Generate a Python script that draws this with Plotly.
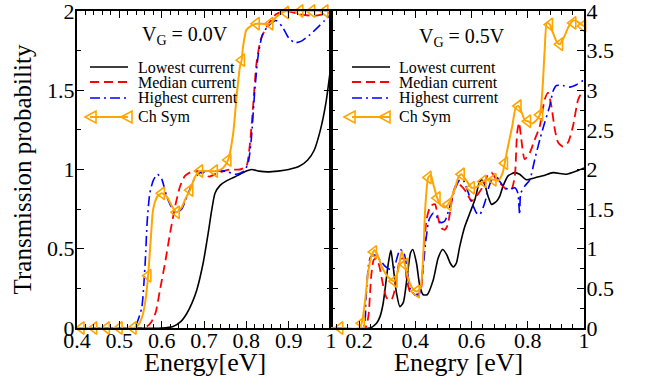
import plotly.graph_objects as go

# ---------------- data: V_G = 0.0 V (left panel) ----------------
e0_low = [0.40, 0.60, 0.627, 0.645, 0.659, 0.672, 0.683, 0.698, 0.71, 0.718, 0.726, 0.738, 0.754, 0.77,
          0.785, 0.80, 0.812, 0.83, 0.85, 0.875, 0.90, 0.925, 0.945, 0.96, 0.975, 0.988, 1.0]
t0_low = [0, 0, 0.01, 0.04, 0.09, 0.16, 0.24, 0.41, 0.60, 0.74, 0.85, 0.90, 0.93, 0.95,
          0.97, 0.99, 1.0, 0.99, 0.985, 0.99, 1.0, 1.02, 1.06, 1.12, 1.25, 1.42, 1.66]

e0_med = [0.40, 0.55, 0.565, 0.576, 0.586, 0.596, 0.608, 0.62, 0.632, 0.643, 0.655, 0.67, 0.685, 0.70,
          0.712, 0.73, 0.76, 0.785, 0.80, 0.808, 0.816, 0.824, 0.834, 0.848, 0.87, 0.895, 0.925, 0.96, 1.0]
t0_med = [0, 0, 0.01, 0.04, 0.10, 0.24, 0.41, 0.60, 0.77, 0.89, 0.96, 0.985, 0.99, 0.97,
          0.955, 0.975, 1.0, 1.0, 1.02, 1.15, 1.40, 1.67, 1.82, 1.90, 1.98, 2.0, 1.98, 1.97, 1.99]

e0_high = [0.40, 0.53, 0.541, 0.553, 0.561, 0.566, 0.572, 0.58, 0.59, 0.60, 0.612, 0.624, 0.635, 0.647,
           0.66, 0.675, 0.69, 0.72, 0.75, 0.775, 0.795, 0.805, 0.812, 0.82, 0.828, 0.838, 0.85, 0.87,
           0.885, 0.90, 0.915, 0.93, 0.95, 0.97, 0.985, 1.0]
t0_high = [0, 0, 0.03, 0.13, 0.41, 0.68, 0.85, 0.93, 0.97, 0.94, 0.83, 0.76, 0.73, 0.75,
           0.83, 0.93, 0.98, 0.99, 0.99, 0.97, 0.99, 1.05, 1.20, 1.50, 1.72, 1.85, 1.90, 1.94,
           1.90, 1.83, 1.80, 1.81, 1.85, 1.90, 1.94, 1.98]

e0_sym = [0.40, 0.533, 0.545, 0.555, 0.562, 0.568, 0.574, 0.58, 0.59, 0.60, 0.612, 0.624, 0.635, 0.647,
          0.657, 0.667, 0.678, 0.69, 0.71, 0.73, 0.745, 0.757, 0.769, 0.777, 0.785, 0.789, 0.792, 0.80,
          0.813, 0.824, 0.856, 0.87, 0.885, 0.895, 1.0]
t0_sym = [0, 0, 0.02, 0.08, 0.18, 0.33, 0.55, 0.75, 0.83, 0.85, 0.83, 0.77, 0.73, 0.76,
          0.82, 0.87, 0.95, 0.99, 0.99, 0.99, 1.01, 1.06, 1.23, 1.46, 1.65, 1.69, 1.77, 1.88,
          1.91, 1.92, 1.92, 1.96, 1.99, 2.0, 2.0]
e0_sym_pts = [0.41, 0.44, 0.47, 0.50, 0.533, 0.568, 0.60, 0.635, 0.667, 0.69, 0.725, 0.757, 0.789,
              0.824, 0.856, 0.893, 0.927, 0.955, 0.986]
t0_sym_pts = [0, 0, 0, 0, 0, 0.33, 0.85, 0.73, 0.87, 0.99, 0.99, 1.06, 1.69,
              1.92, 1.92, 1.99, 2.0, 2.0, 2.0]

# ---------------- data: V_G = 0.5 V (right panel) ----------------
e5_low = [0.10, 0.239, 0.262, 0.274, 0.285, 0.292, 0.304, 0.313, 0.321, 0.333, 0.345, 0.357, 0.371, 0.383,
          0.391, 0.404, 0.416, 0.428, 0.442, 0.464, 0.481, 0.497, 0.511, 0.524, 0.535, 0.546, 0.558,
          0.576, 0.594, 0.612, 0.627, 0.635, 0.647, 0.659, 0.671, 0.689, 0.70, 0.712, 0.73, 0.754,
          0.771, 0.795, 0.819, 0.854, 0.89, 0.937, 0.973, 1.0]
t5_low = [0, 0, 0.06, 0.14, 0.30, 0.48, 0.82, 0.98, 0.78, 0.44, 0.27, 0.32, 0.65, 0.95,
          0.99, 0.82, 0.53, 0.42, 0.42, 0.61, 0.88, 0.99, 0.93, 0.82, 0.77, 0.82, 1.03,
          1.28, 1.45, 1.62, 1.83, 1.87, 1.81, 1.66, 1.56, 1.60, 1.66, 1.79, 1.92, 1.96,
          1.94, 1.87, 1.89, 1.92, 1.96, 1.94, 1.98, 2.02]

e5_med = [0.10, 0.221, 0.233, 0.239, 0.244, 0.252, 0.262, 0.272, 0.286, 0.298, 0.314, 0.324, 0.336, 0.345,
          0.36, 0.369, 0.383, 0.398, 0.41, 0.422, 0.43, 0.44, 0.454, 0.470, 0.480, 0.493, 0.505, 0.515,
          0.523, 0.535, 0.549, 0.564, 0.582, 0.60, 0.612, 0.627, 0.641, 0.659, 0.671, 0.689, 0.706,
          0.724, 0.742, 0.754, 0.762, 0.769, 0.777, 0.789, 0.807, 0.825, 0.843, 0.86, 0.872, 0.884,
          0.896, 0.908, 0.925, 0.943, 0.961, 0.979, 0.99, 1.0]
t5_med = [0, 0, 0.15, 0.44, 0.69, 0.86, 0.88, 0.78, 0.53, 0.38, 0.35, 0.44, 0.69, 0.86,
          0.88, 0.62, 0.44, 0.42, 0.40, 0.53, 0.95, 1.37, 1.54, 1.56, 1.40, 1.26, 1.24, 1.30,
          1.45, 1.71, 1.83, 1.79, 1.71, 1.60, 1.64, 1.71, 1.79, 1.94, 1.96, 1.87, 1.81,
          1.75, 1.75, 1.92, 2.46, 2.59, 2.38, 2.13, 2.21, 2.38, 2.55, 2.88, 2.97, 2.80,
          2.51, 2.34, 2.29, 2.34, 2.55, 2.88, 2.95, 2.93]

e5_high = [0.10, 0.214, 0.224, 0.233, 0.241, 0.256, 0.274, 0.292, 0.31, 0.324, 0.336, 0.346, 0.359,
           0.371, 0.383, 0.40, 0.414, 0.428, 0.438, 0.449, 0.464, 0.475, 0.49, 0.505, 0.523, 0.541,
           0.558, 0.573, 0.588, 0.606, 0.618, 0.629, 0.647, 0.659, 0.671, 0.683, 0.70, 0.718, 0.736,
           0.754, 0.765, 0.768, 0.771, 0.775, 0.789, 0.807, 0.825, 0.843, 0.86, 0.878, 0.89, 0.902,
           0.925, 0.949, 0.973, 0.996, 1.0]
t5_high = [0, 0, 0.36, 0.78, 0.90, 0.92, 0.86, 0.78, 0.74, 0.76, 0.90, 0.99, 0.95,
           0.74, 0.48, 0.42, 0.44, 0.78, 1.12, 1.37, 1.45, 1.41, 1.33, 1.35, 1.54, 1.75,
           1.87, 1.85, 1.71, 1.54, 1.45, 1.43, 1.58, 1.75, 1.87, 1.94, 1.85, 1.77, 1.75,
           1.77, 1.70, 1.58, 1.43, 1.70, 1.79, 1.87, 2.13, 2.38, 2.59, 2.80, 2.99, 3.06,
           3.06, 3.04, 3.07, 3.12, 3.12]

e5_sym = [0.10, 0.20, 0.209, 0.22, 0.232, 0.245, 0.256, 0.268, 0.28, 0.295, 0.31, 0.325, 0.34, 0.352,
          0.363, 0.375, 0.39, 0.404, 0.418, 0.428, 0.435, 0.446, 0.455, 0.465, 0.478, 0.49, 0.505,
          0.517, 0.54, 0.553, 0.564, 0.58, 0.60, 0.62, 0.641, 0.66, 0.677, 0.695, 0.71, 0.718, 0.73,
          0.745, 0.757, 0.766, 0.775, 0.79, 0.80, 0.815, 0.83, 0.843, 0.852, 0.86, 0.868, 0.878,
          0.89, 0.905, 0.914, 0.93, 0.945, 0.961, 0.975, 0.99, 1.0]
t5_sym = [0, 0, 0.06, 0.30, 0.70, 0.92, 0.98, 0.90, 0.78, 0.68, 0.62, 0.59, 0.75, 0.97,
          0.80, 0.62, 0.50, 0.46, 0.50, 0.90, 1.50, 1.90, 1.93, 1.80, 1.64, 1.55, 1.52,
          1.56, 1.75, 1.90, 1.94, 1.87, 1.77, 1.78, 1.85, 1.88, 1.87, 1.86, 1.95, 2.08, 2.30,
          2.55, 2.78, 2.80, 2.75, 2.62, 2.61, 2.58, 2.62, 2.69, 3.00, 3.50, 3.85, 3.83,
          3.72, 3.60, 3.58, 3.68, 3.80, 3.88, 3.87, 3.83, 3.81]
e5_sym_pts = [0.132, 0.209, 0.252, 0.325, 0.363, 0.404, 0.446, 0.478, 0.517, 0.564, 0.60, 0.641,
              0.677, 0.718, 0.766, 0.80, 0.843, 0.878, 0.914, 0.961, 0.996]
t5_sym_pts = [0, 0.06, 0.96, 0.59, 0.80, 0.46, 1.90, 1.64, 1.56, 1.94, 1.77, 1.85,
              1.87, 2.08, 2.80, 2.61, 2.69, 3.83, 3.58, 3.85, 3.81]

# ---------------- labels ----------------
series_names = ["Lowest current", "Median current", "Highest current", "Ch Sym"]
x0_tickvals = [0.4, 0.5, 0.6, 0.7, 0.8, 0.9, 1.0]
x0_ticktext = ["0.4", "0.5", "0.6", "0.7", "0.8", "0.9", "1"]
x5_tickvals = [0.2, 0.4, 0.6, 0.8, 1.0]
x5_ticktext = ["0.2", "0.4", "0.6", "0.8", "1"]
y0_tickvals = [0, 0.5, 1, 1.5, 2]
y0_ticktext = ["0", "0.5", "1", "1.5", "2"]
y5_tickvals = [0, 0.5, 1, 1.5, 2, 2.5, 3, 3.5, 4]
y5_ticktext = ["0", "0.5", "1", "1.5", "2", "2.5", "3", "3.5", "4"]

FONT = "Liberation Serif"
ORANGE = "#FFA500"
colors = ["black", "#FF0000", "#0000FF", ORANGE]
dashes = ["solid", "9px,5px", "10px,4px,2px,4px", "solid"]
widths = [1.6, 1.8, 1.6, 2.0]

fig = go.Figure()

panels = [
    ("x", "y", [(e0_low, t0_low), (e0_med, t0_med), (e0_high, t0_high), (e0_sym, t0_sym)], (e0_sym_pts, t0_sym_pts)),
    ("x2", "y2", [(e5_low, t5_low), (e5_med, t5_med), (e5_high, t5_high), (e5_sym, t5_sym)], (e5_sym_pts, t5_sym_pts)),
]
for xa, ya, curves, pts in panels:
    for i, (ex, ty) in enumerate(curves):
        fig.add_trace(go.Scatter(
            x=ex, y=ty, mode="lines", xaxis=xa, yaxis=ya, name=series_names[i],
            line=dict(color=colors[i], width=widths[i], dash=dashes[i], shape="spline", smoothing=0.6),
            showlegend=False, hoverinfo="skip"))
    fig.add_trace(go.Scatter(
        x=pts[0], y=pts[1], mode="markers", xaxis=xa, yaxis=ya, name=series_names[3],
        marker=dict(symbol="triangle-left-open", size=11, color=ORANGE, line=dict(width=1.6, color=ORANGE)),
        cliponaxis=False, showlegend=False, hoverinfo="skip"))

# geometry
W, H = 645, 385
ML, MR, MT, MB = 77, 61, 11, 57
PW, PH = W - ML - MR, H - MT - MB
split = 254 / PW

def px(xp):
    return (xp - ML) / PW

def py(yp):
    return (H - MB - yp) / PH

axis_common = dict(
    showline=True, linecolor="black", linewidth=2, mirror="ticks",
    ticks="inside", ticklen=7, tickwidth=1.3, tickcolor="black",
    showgrid=False, zeroline=False, automargin=False, ticklabeloverflow="allow",
    tickfont=dict(family=FONT, size=22, color="black"),
)
title_font = dict(family=FONT, size=25, color="black")
fig.update_layout(
    xaxis=dict(axis_common, domain=[0, split], range=[0.4, 1.0], anchor="y",
               tickmode="array", tickvals=x0_tickvals, ticktext=x0_ticktext, ticklabelstandoff=-8,
               minor=dict(dtick=0.02, tick0=0.4, ticks="inside", ticklen=4, tickcolor="black", tickwidth=1)),
    yaxis=dict(axis_common, domain=[0, 1], range=[0, 2], anchor="x",
               tickmode="array", tickvals=y0_tickvals, ticktext=y0_ticktext, ticklabelstandoff=-4,
               minor=dict(dtick=0.25, tick0=0, ticks="inside", ticklen=4, tickcolor="black", tickwidth=1),
               title=dict(text="Transmission probability", font=title_font, standoff=8)),
    xaxis2=dict(axis_common, domain=[split, 1], range=[0.1, 1.0], anchor="y2",
                tickmode="array", tickvals=x5_tickvals, ticktext=x5_ticktext, ticklabelstandoff=-8,
                minor=dict(dtick=0.04, tick0=0.2, ticks="inside", ticklen=4, tickcolor="black", tickwidth=1)),
    yaxis2=dict(axis_common, domain=[0, 1], range=[0, 4], anchor="x2", side="right",
                tickmode="array", tickvals=y5_tickvals, ticktext=y5_ticktext, ticklabelstandoff=-4,
                minor=dict(dtick=0.25, tick0=0, ticks="inside", ticklen=4, tickcolor="black", tickwidth=1)),
    width=W, height=H,
    margin=dict(l=ML, r=MR, t=MT, b=MB, pad=0),
    template="none",
    paper_bgcolor="white", plot_bgcolor="white",
    showlegend=False,
    font=dict(family=FONT, color="black"),
)

# x-axis titles (placed as annotations for exact positioning)
fig.add_annotation(text="Energy[eV]", x=px(205), y=py(362), xref="paper", yref="paper",
                   xanchor="center", yanchor="middle",
                   showarrow=False, font=dict(family=FONT, size=26, color="black"))
fig.add_annotation(text="Enegry [eV]", x=px(458), y=py(362), xref="paper", yref="paper",
                   xanchor="center", yanchor="middle",
                   showarrow=False, font=dict(family=FONT, size=26, color="black"))

# V_G labels
fig.add_annotation(text="V<sub>G</sub> = 0.0V", x=px(185), y=py(21), xref="paper", yref="paper",
                   xanchor="center", yanchor="top",
                   showarrow=False, font=dict(family=FONT, size=20, color="black"))
fig.add_annotation(text="V<sub>G</sub> = 0.5V", x=px(462), y=py(23), xref="paper", yref="paper",
                   xanchor="center", yanchor="top",
                   showarrow=False, font=dict(family=FONT, size=20, color="black"))

# hand-drawn legends (one per panel)
rows = [67, 82, 98, 117]
for (lx0, lx1, tx, tri) in [(90, 128, 136, (91, 127)), (352, 390, 397, (350, 385))]:
    for i, name in enumerate(series_names):
        yy = py(rows[i])
        fig.add_shape(type="line", xref="paper", yref="paper", x0=px(lx0), x1=px(lx1), y0=yy, y1=yy,
                      line=dict(color=colors[i], width=widths[i], dash=dashes[i]))
        fig.add_annotation(text=name, x=px(tx), y=yy, xref="paper", yref="paper", xanchor="left",
                           yanchor="middle", showarrow=False, font=dict(family=FONT, size=16, color="black"))
    for cx in tri:
        fig.add_shape(type="path", xref="paper", yref="paper", xsizemode="pixel", ysizemode="pixel",
                      xanchor=px(cx), yanchor=py(rows[3]), path="M -6,0 L 5,6 L 5,-6 Z",
                      line=dict(color=ORANGE, width=1.6), fillcolor="rgba(0,0,0,0)")

fig.write_html("out.html", config={"displayModeBar": False},
               post_script="document.body.style.margin='0';document.body.style.overflow='hidden';")
